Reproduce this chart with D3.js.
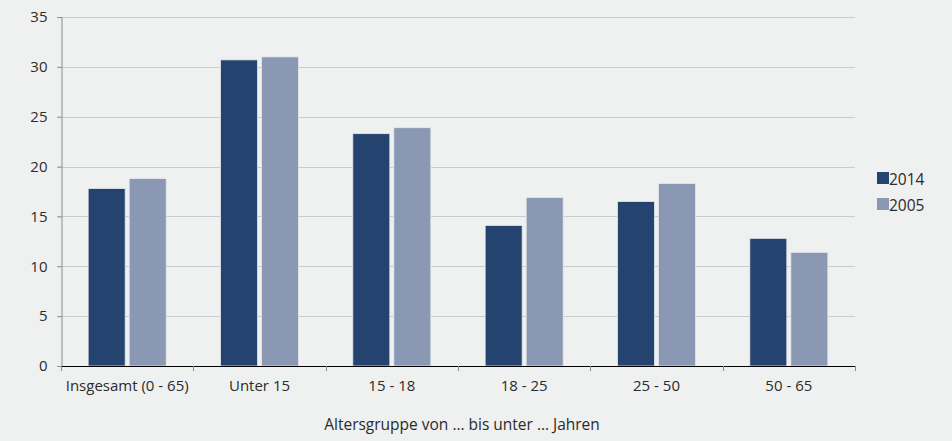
<!DOCTYPE html>
<html><head><meta charset="utf-8">
<script src="https://cdn.jsdelivr.net/npm/d3@7"></script>
<style>
html,body{margin:0;padding:0;background:#eff0f0;}
svg{display:block;}
text{font-family:"Open Sans",sans-serif;fill:#2b2b2b;}
</style></head>
<body>
<svg id="chart" width="952" height="441"></svg>
<script>
const categories = ["Insgesamt (0 - 65)", "Unter 15", "15 - 18", "18 - 25", "25 - 50", "50 - 65"];
const seriesNames = ["2014", "2005"];
const values2014 = [17.8, 30.7, 23.3, 14.1, 16.5, 12.8];
const values2005 = [18.8, 31.0, 23.9, 16.9, 18.3, 11.4];
const yTicks = [0, 5, 10, 15, 20, 25, 30, 35];
const colors = ["#24446f", "#8a98b3"];
const xTitle = "Altersgruppe von … bis unter … Jahren";

const svg = d3.select("#chart");
const margin = {left: 61, right: 97, top: 17, bottom: 75};
const W = 952, H = 441;
const x0 = margin.left, x1 = W - margin.right, y0 = H - margin.bottom, y1 = margin.top;

const x = d3.scaleBand().domain(categories).range([x0, x1]).paddingInner(0).paddingOuter(0);
const xs = d3.scaleBand().domain(seriesNames).range([0, x.bandwidth()]).paddingInner(0.0976).paddingOuter(0.662);
const y = d3.scaleLinear().domain([0, 35]).range([y0, y1]);

// gridlines
svg.append("g").selectAll("line").data(yTicks.filter(d => d > 0)).join("line")
  .attr("x1", x0 - 4).attr("x2", x1)
  .attr("y1", d => Math.round(y(d)) + 0.5).attr("y2", d => Math.round(y(d)) + 0.5)
  .attr("stroke", "#c9cbcc").attr("stroke-width", 1);

// y axis
const yAxis = svg.append("g").attr("transform", `translate(${x0 + 0.5},0)`)
  .call(d3.axisLeft(y).tickValues(yTicks).tickSize(4).tickPadding(10));
yAxis.select(".domain").attr("stroke", "#8c8c8c");
yAxis.selectAll(".tick line").attr("stroke", "#8c8c8c");
yAxis.selectAll("text").style("font-size", "15px").style("font-family", '"Open Sans",sans-serif').attr("fill", "#2b2b2b");

// bars
const data = categories.map((c, i) => ({c, vals: [values2014[i], values2005[i]]}));
const groups = svg.append("g").selectAll("g").data(data).join("g")
  .attr("transform", d => `translate(${x(d.c)},0)`);
groups.selectAll("rect").data(d => d.vals.map((v, j) => ({s: seriesNames[j], v, j}))).join("rect")
  .attr("x", d => xs(d.s)).attr("width", xs.bandwidth())
  .attr("y", d => y(d.v)).attr("height", d => y(0) - y(d.v))
  .attr("fill", d => colors[d.j])
  .attr("stroke", "#e6e9ee").attr("stroke-width", 0.8);

// x axis
const xAxis = svg.append("g").attr("transform", `translate(0,${y0 + 0.5})`)
  .call(d3.axisBottom(x).tickSize(0).tickPadding(14));
xAxis.select(".domain").remove();
svg.append("line").attr("x1", x0).attr("x2", x1 + 1).attr("y1", y0 + 0.5).attr("y2", y0 + 0.5)
  .attr("stroke", "#000").attr("stroke-width", 1.2);
const boundaries = categories.map(c => x(c)).concat([x1]);
svg.append("g").selectAll("line").data(boundaries).join("line")
  .attr("x1", d => Math.round(d) + 0.5).attr("x2", d => Math.round(d) + 0.5)
  .attr("y1", y0).attr("y2", y0 + 5).attr("stroke", "#8c8c8c");
xAxis.selectAll("text").style("font-size", "15px").style("font-family", '"Open Sans",sans-serif').attr("fill", "#2b2b2b");

// x title
svg.append("text").attr("x", 462).attr("y", 430).attr("text-anchor", "middle")
  .style("font-size", "15.5px").text(xTitle);

// legend
const legend = svg.append("g").attr("transform", "translate(877,172)");
seriesNames.forEach((s, i) => {
  const g = legend.append("g").attr("transform", `translate(0,${i * 26})`);
  g.append("rect").attr("width", 12).attr("height", 12).attr("fill", colors[i]);
  g.append("text").attr("x", 12).attr("y", 12.5).style("font-size", "15.5px").text(s);
});
</script>
</body></html>
